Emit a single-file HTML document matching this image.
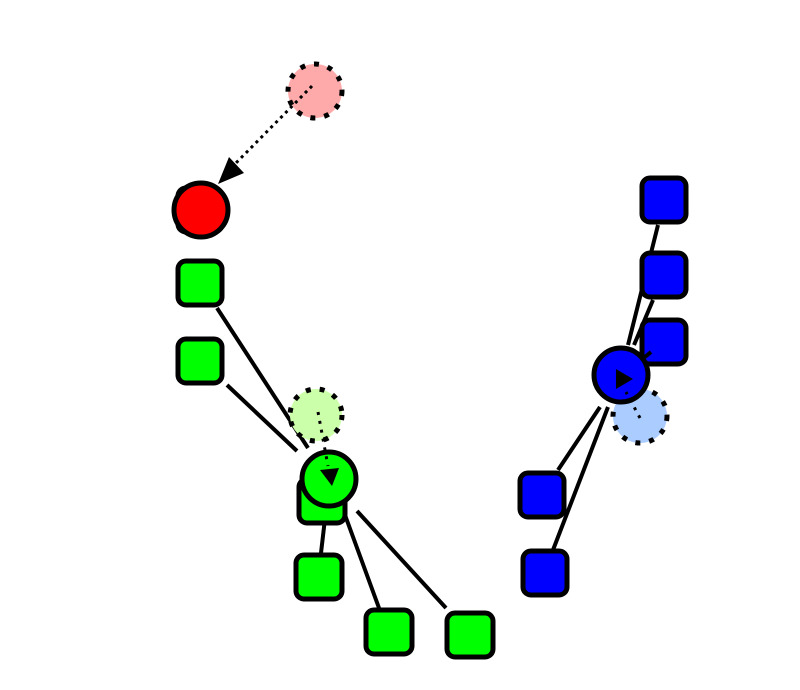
<!DOCTYPE html>
<html><head><style>body{margin:0;background:#fff}svg{display:block}</style></head><body>
<svg width="800" height="690" viewBox="0 0 800 690">
<g stroke="#000" stroke-width="4" stroke-linecap="butt">
<line x1="217" y1="308" x2="308" y2="448"/>
<line x1="227" y1="385" x2="297" y2="451"/>
<line x1="326" y1="510" x2="321" y2="553"/>
<line x1="345" y1="515" x2="379" y2="608"/>
<line x1="357" y1="511" x2="446" y2="608"/>
<line x1="658" y1="225" x2="628" y2="345"/>
<line x1="653" y1="300" x2="634" y2="345"/>
<line x1="600" y1="407" x2="558" y2="470"/>
<line x1="608" y1="407" x2="553" y2="550"/>
</g>
<circle cx="315" cy="91" r="27" fill="#ffaaaa" stroke="#000" stroke-width="5" stroke-dasharray="5 9"/>
<line x1="312" y1="86" x2="234" y2="165" stroke="#000" stroke-width="3" stroke-dasharray="3 4"/>
<polygon points="218,184 229,157 244,173" fill="#000"/>
<rect x="178" y="188" width="44" height="44" rx="8" fill="#f00" stroke="#000" stroke-width="5"/>
<circle cx="201" cy="210" r="27" fill="#f00" stroke="#000" stroke-width="5"/>
<g fill="#00ff00" stroke="#000" stroke-width="5">
<rect x="178" y="261" width="44" height="44" rx="8"/>
<rect x="178" y="339" width="44" height="44" rx="8"/>
<rect x="299" y="479" width="46" height="44" rx="8"/>
<rect x="296" y="555" width="46" height="44" rx="8"/>
<rect x="366" y="610" width="46" height="44" rx="8"/>
<rect x="447" y="613" width="46" height="44" rx="8"/>
</g>
<circle cx="316" cy="415" r="26" fill="#ccffaa" stroke="#000" stroke-width="5" stroke-dasharray="5 9"/>
<circle cx="329" cy="479" r="27" fill="#00ff00" stroke="#000" stroke-width="5"/>
<line x1="318" y1="412" x2="328" y2="466" stroke="#000" stroke-width="3" stroke-dasharray="3 6"/>
<polygon points="320,470 339,468 332,486" fill="#000"/>
<g fill="#0000ff" stroke="#000" stroke-width="5">
<rect x="642" y="178" width="44" height="44" rx="8"/>
<rect x="642" y="253" width="44" height="44" rx="8"/>
<rect x="642" y="320" width="44" height="44" rx="8"/>
<rect x="520" y="473" width="44" height="44" rx="8"/>
<rect x="523" y="551" width="44" height="44" rx="8"/>
</g>
<line x1="651" y1="352" x2="640" y2="361" stroke="#000" stroke-width="4"/>
<circle cx="640" cy="416" r="27" fill="#aaccff" stroke="#000" stroke-width="5" stroke-dasharray="5 9"/>
<circle cx="621" cy="375" r="27" fill="#0000ff" stroke="#000" stroke-width="5"/>
<line x1="640" y1="418" x2="626" y2="392" stroke="#000" stroke-width="3" stroke-dasharray="3 6"/>
<polygon points="616,369 633,379 616,389" fill="#000"/>
</svg>
</body></html>
